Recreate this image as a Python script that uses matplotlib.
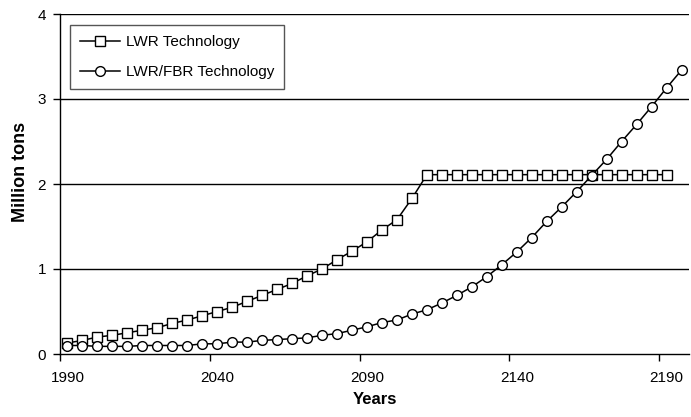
"""Uranium requirement under LWR vs LWR/FBR technology, Excel-style line chart."""

import matplotlib
matplotlib.use("Agg")
import matplotlib.pyplot as plt

plt.rcParams["font.family"] = ["Liberation Sans", "DejaVu Sans"]

years_lwr = list(range(1990, 2195, 5))
years_fbr = list(range(1990, 2200, 5))

lwr = [0.13, 0.16, 0.20, 0.22, 0.25, 0.28, 0.31, 0.36, 0.40, 0.45,
       0.50, 0.55, 0.62, 0.69, 0.76, 0.83, 0.92, 1.00, 1.11, 1.21,
       1.32, 1.46, 1.58, 1.83, 2.11, 2.11, 2.11, 2.11, 2.11, 2.11,
       2.11, 2.11, 2.11, 2.11, 2.11, 2.11, 2.11, 2.11, 2.11, 2.11,
       2.11]
lwr_fbr = [0.10, 0.10, 0.09, 0.09, 0.09, 0.10, 0.10, 0.10, 0.10, 0.12,
           0.12, 0.14, 0.14, 0.16, 0.17, 0.18, 0.19, 0.22, 0.24, 0.28,
           0.32, 0.37, 0.40, 0.47, 0.52, 0.60, 0.69, 0.79, 0.91, 1.05,
           1.20, 1.37, 1.56, 1.73, 1.91, 2.10, 2.29, 2.50, 2.70, 2.91,
           3.13, 3.34]

label_years = [1990, 2040, 2090, 2140, 2190]

fig = plt.figure(figsize=(6.91, 4.17), dpi=100)
ax = fig.add_axes([60 / 691, 1 - 354 / 417, 629 / 691, 340 / 417])

for y in [1, 2, 3, 4]:
    ax.axhline(y, color="black", lw=1.0, zorder=1)

ax.plot(years_lwr, lwr, color="black", lw=1.1, marker="s", markersize=6.5,
        markerfacecolor="white", markeredgecolor="black", markeredgewidth=1.0,
        label="LWR Technology", zorder=3)
ax.plot(years_fbr, lwr_fbr, color="black", lw=1.1, marker="o", markersize=7,
        markerfacecolor="white", markeredgecolor="black", markeredgewidth=1.0,
        label="LWR/FBR Technology", zorder=3)

ax.set_xlim(1987.5, 2197.5)
ax.set_ylim(0, 4)
ax.set_yticks([0, 1, 2, 3, 4])
# Excel category axis: ticks between categories, labels on them
ax.set_xticks([y - 2.5 for y in label_years])
ax.set_xticklabels([])
ax.set_xticks(label_years, minor=True)
ax.set_xticklabels([str(y) for y in label_years], minor=True, fontsize=11)
ax.tick_params(axis="x", which="minor", length=0, pad=12)
ax.tick_params(axis="x", which="major", length=5, width=1, color="black")
ax.tick_params(axis="y", length=5, width=1, labelsize=11, pad=5)

for side in ["top", "right"]:
    ax.spines[side].set_visible(False)
ax.spines["left"].set_linewidth(1.0)
ax.spines["bottom"].set_linewidth(1.0)

ax.set_xlabel("Years", fontsize=12, fontweight="bold")
ax.xaxis.set_label_coords(0.5, -0.113)
ax.set_ylabel("Million tons", fontsize=13, fontweight="bold")
ax.yaxis.set_label_coords(-0.05, 0.535)

leg = ax.legend(loc="upper left", bbox_to_anchor=(70 / 691, 1 - 25 / 417),
                bbox_transform=fig.transFigure, borderaxespad=0,
                fancybox=False, edgecolor="#555555", fontsize=11,
                handlelength=2.6, labelspacing=1.05, borderpad=0.65,
                handletextpad=0.4, framealpha=1)
leg.get_frame().set_linewidth(1.0)

fig.savefig("out.png", dpi=100)
